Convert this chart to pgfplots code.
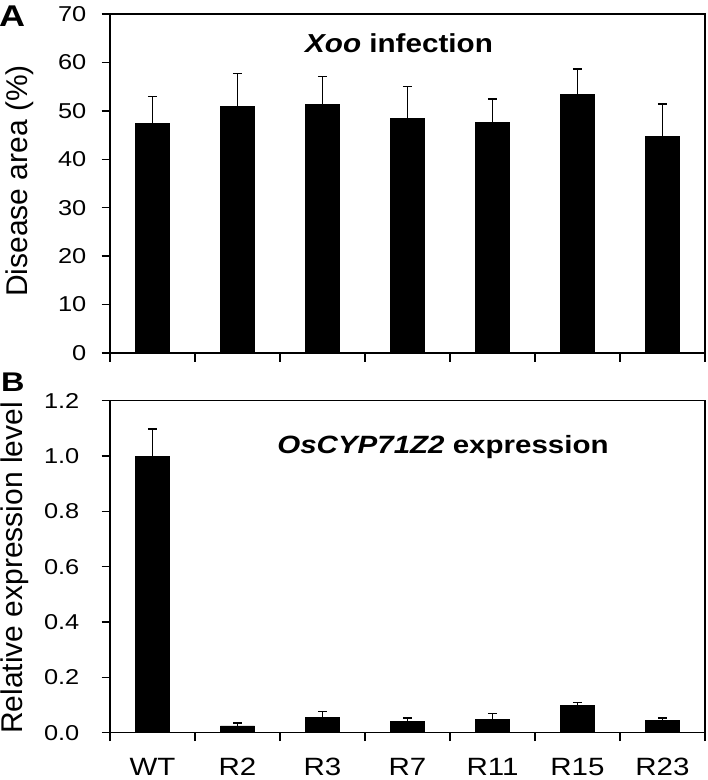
\documentclass[border=0pt]{standalone}
\usepackage{fontspec}
\setmainfont{Liberation Sans}
\usepackage{graphicx}
\usepackage{pgfplots}
\pgfplotsset{compat=1.18}
\usepackage{pgfplotstable}

\pgfplotstableread{
x val err
0 47.4 5.6
1 50.9 6.8
2 51.4 5.7
3 48.5 6.5
4 47.6 4.8
5 53.4 5.2
6 44.8 6.6
}\topdata

\pgfplotstableread{
x val err
0 1.000 0.097
1 0.025 0.010
2 0.056 0.020
3 0.040 0.014
4 0.048 0.021
5 0.098 0.012
6 0.045 0.008
}\botdata

\newcommand{\wide}[1]{\scalebox{1.18}[1]{#1}}

\pgfplotsset{
  panel/.style={
    scale only axis,
    width=595pt,
    xmin=-0.5, xmax=6.5,
    ymin=0,
    axis line style={line width=1.5pt},
    every tick/.style={line width=1.3pt, black},
    major tick length=8.5pt,
    tick align=outside,
    tick pos=left,
    xtick={-0.5,0.5,...,6.5},
    xticklabels={},
    /pgf/number format/assume math mode=true,
    ybar, bar width=34pt,
  },
  barstyle/.style={fill=black, draw=black, bar shift=0pt,
    error bars/.cd, y dir=plus, y explicit,
    error bar style={line width=1.2pt, black},
    error mark options={rotate=90, mark size=4.5pt, line width=1.5pt, black}},
}

\begin{document}
\begin{tikzpicture}
\path[use as bounding box] (0,0) rectangle (708pt,-780pt);

\begin{axis}[panel,
  at={(110pt,-353pt)}, anchor=south west,
  height=339pt,
  ymax=70, ytick={0,10,...,70},
  yticklabel style={font=\fontsize{21.5}{21.5}\selectfont, anchor=east, inner sep=0pt, xshift=-15pt},
  yticklabel={\wide{\pgfmathprintnumber{\tick}}},
]
\addplot[barstyle] table[x=x, y=val, y error=err] {\topdata};
\end{axis}

\begin{axis}[panel,
  at={(110pt,-732.7pt)}, anchor=south west,
  height=332pt,
  ymax=1.2, ytick={0,0.2,...,1.2},
  yticklabel style={font=\fontsize{21.5}{21.5}\selectfont, anchor=east, inner sep=0pt, xshift=-22pt},
  yticklabel={\wide{\pgfmathprintnumber[fixed, fixed zerofill, precision=1]{\tick}}},
  extra x ticks={0,1,2,3,4,5,6},
  extra x tick labels={\wide{WT},\wide{R2},\wide{R3},\wide{R7},\wide{R11},\wide{R15},\wide{R23}},
  extra x tick style={major tick length=0pt,
    xticklabel style={font=\fontsize{25}{25}\selectfont, anchor=north, inner sep=0pt, yshift=-25pt}},
]
\addplot[barstyle] table[x=x, y=val, y error=err] {\botdata};
\end{axis}

\node[anchor=base, font=\bfseries\fontsize{26}{26}\selectfont, xscale=1.14] at (399pt,-52pt) {\textit{Xoo} infection};
\node[anchor=base, font=\bfseries\fontsize{25}{25}\selectfont, xscale=1.18] at (443pt,-453pt) {\textit{OsCYP71Z2} expression};

\node[anchor=base west, font=\bfseries\fontsize{30}{30}\selectfont, xscale=1.2, inner sep=0pt] at (-1pt,-26pt) {A};
\node[anchor=base west, font=\bfseries\fontsize{27}{27}\selectfont, xscale=1.2, inner sep=0pt] at (1pt,-391pt) {B};

\node[rotate=90, font=\fontsize{30}{30}\selectfont, inner sep=0pt] at (20pt,-181pt) {Disease area (\%)};
\node[rotate=90, font=\fontsize{30}{30}\selectfont, inner sep=0pt] at (15pt,-568pt) {Relative expression level};
\end{tikzpicture}
\end{document}
